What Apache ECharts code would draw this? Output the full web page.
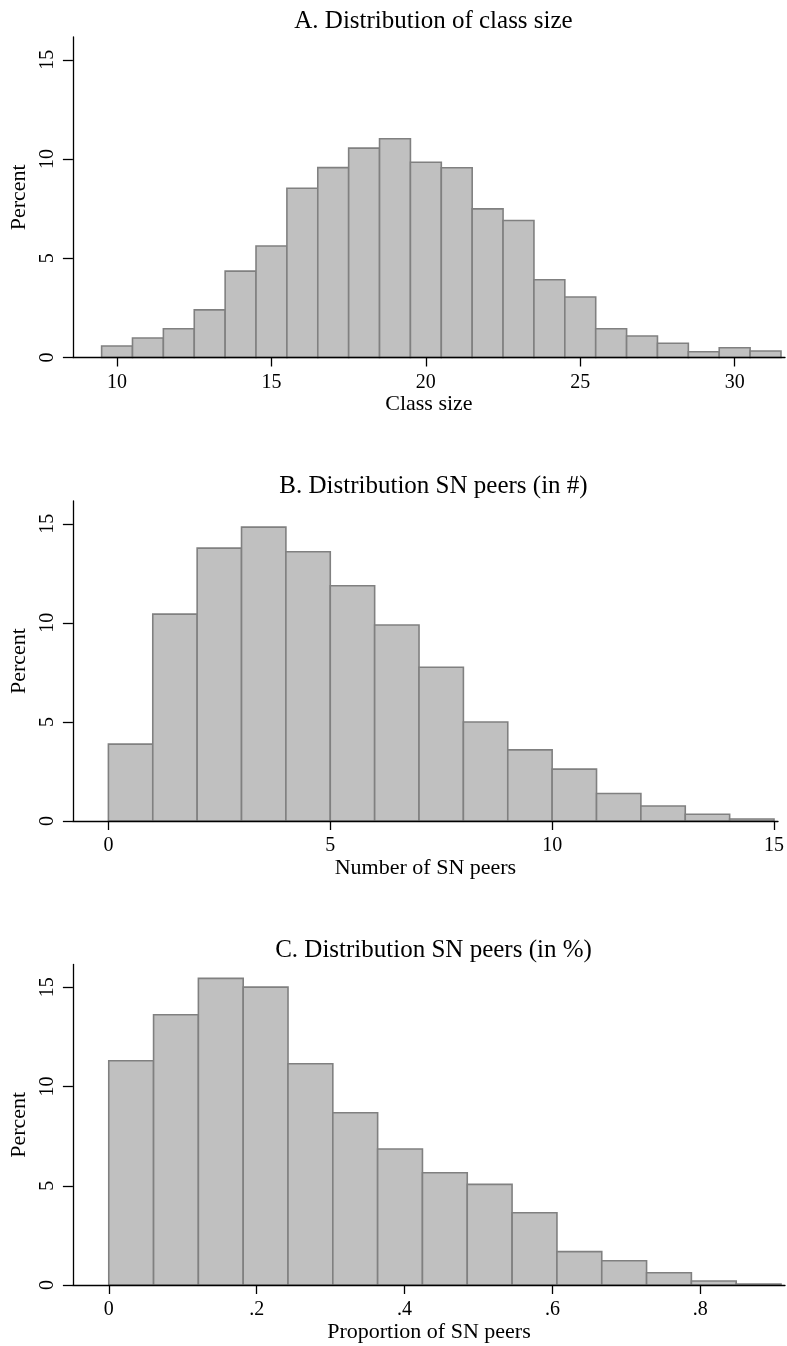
<!DOCTYPE html>
<html>
<head>
<meta charset="utf-8">
<script src="https://cdn.jsdelivr.net/npm/echarts@6/dist/echarts.min.js"></script>
<style>
  html, body { margin: 0; padding: 0; background: #ffffff; }
  #chart { width: 787px; height: 1346px; }
</style>
</head>
<body>
<div id="chart"></div>
<script>
// Panel A: class size, bins of width 1 centred on integers
const classSizeCenters = [10, 11, 12, 13, 14, 15, 16, 17, 18, 19, 20, 21, 22, 23, 24, 25, 26, 27, 28, 29, 30, 31];
const classSizePct     = [0.58, 0.98, 1.45, 2.40, 4.35, 5.62, 8.53, 9.57, 10.55, 11.02, 9.84, 9.56, 7.49, 6.90, 3.92, 3.05, 1.45, 1.08, 0.72, 0.29, 0.49, 0.33];

// Panel B: number of SN peers, bins [k, k+1)
const peerCountStarts = [0, 1, 2, 3, 4, 5, 6, 7, 8, 9, 10, 11, 12, 13, 14];
const peerCountPct    = [3.88, 10.44, 13.77, 14.83, 13.59, 11.87, 9.89, 7.76, 5.00, 3.59, 2.62, 1.39, 0.76, 0.34, 0.10];

// Panel C: proportion of SN peers, 15 equal bins
const peerShareStarts = [0, 0.0606, 0.1212, 0.1818, 0.2424, 0.3030, 0.3636, 0.4242, 0.4848, 0.5455, 0.6061, 0.6667, 0.7273, 0.7879, 0.8485];
const peerShareWidth  = 0.0606;
const peerSharePct    = [11.30, 13.62, 15.45, 15.01, 11.15, 8.68, 6.85, 5.66, 5.07, 3.64, 1.68, 1.22, 0.62, 0.20, 0.05];

// Tick values
const classSizeTicks = [10, 15, 20, 25, 30];
const peerCountTicks = [0, 5, 10, 15];
const peerShareTicks = [0, 0.2, 0.4, 0.6, 0.8];
const percentTicks   = [0, 5, 10, 15];

const FONT = "'Liberation Serif', 'Times New Roman', serif";
const BAR_FILL = '#c0c0c0';
const BAR_EDGE = '#808080';

function histItem(params, api) {
  const lo = api.value(0), hi = api.value(1), v = api.value(2);
  const a = api.coord([lo, v]);
  const b = api.coord([hi, 0]);
  return {
    type: 'rect',
    shape: { x: a[0], y: a[1], width: b[0] - a[0], height: b[1] - a[1] },
    style: { fill: BAR_FILL, stroke: BAR_EDGE, lineWidth: 1.6 }
  };
}

const grids = [
  { left: 70, right: 2, top: 37,  height: 320.5 },
  { left: 70, right: 2, top: 501, height: 320 },
  { left: 70, right: 2, top: 964.5, height: 320.5 }
];

function xAxisFor(idx, min, max, ticks, name, fmt) {
  return {
    type: 'value', gridIndex: idx, min: min, max: max, z: 5,
    name: name, nameLocation: 'middle', nameGap: 35,
    nameTextStyle: { fontFamily: FONT, fontSize: 22, color: '#000' },
    splitLine: { show: false },
    axisLine: { onZero: false, lineStyle: { color: '#000', width: 1.3 } },
    axisTick: { customValues: ticks, length: 9, lineStyle: { color: '#000', width: 1.3 } },
    axisLabel: { customValues: ticks, margin: 15, fontFamily: FONT, fontSize: 20, color: '#000',
                 formatter: fmt || (v => String(v)) }
  };
}

function yAxisFor(idx) {
  return {
    type: 'value', gridIndex: idx, min: 0, max: 16.15, z: 5,
    name: 'Percent', nameLocation: 'middle', nameGap: 39,
    nameTextStyle: { fontFamily: FONT, fontSize: 22, color: '#000' },
    splitLine: { show: false },
    axisLine: { show: true, onZero: false, lineStyle: { color: '#000', width: 1.3 } },
    axisTick: { show: true, customValues: percentTicks, length: 10, lineStyle: { color: '#000', width: 1.3 } },
    axisLabel: { customValues: percentTicks, rotate: 90, margin: 15, fontFamily: FONT, fontSize: 20, color: '#000' }
  };
}

const shareFmt = v => (v === 0 ? '0' : String(v).replace(/^0\./, '.'));

const option = {
  backgroundColor: '#ffffff',
  animation: false,
  title: [
    { text: 'A. Distribution of class size', left: 428.5, top: 4, textAlign: 'center',
      textStyle: { fontFamily: FONT, fontSize: 25, fontWeight: 'normal', color: '#000' } },
    { text: 'B. Distribution SN peers (in #)', left: 428.5, top: 469, textAlign: 'center',
      textStyle: { fontFamily: FONT, fontSize: 25, fontWeight: 'normal', color: '#000' } },
    { text: 'C. Distribution SN peers (in %)', left: 428.5, top: 933, textAlign: 'center',
      textStyle: { fontFamily: FONT, fontSize: 25, fontWeight: 'normal', color: '#000' } }
  ],
  grid: grids,
  xAxis: [
    xAxisFor(0, 8.57, 31.63, classSizeTicks, 'Class size'),
    xAxisFor(1, -0.8, 15.09, peerCountTicks, 'Number of SN peers'),
    xAxisFor(2, -0.0485, 0.9145, peerShareTicks, 'Proportion of SN peers', shareFmt)
  ],
  yAxis: [yAxisFor(0), yAxisFor(1), yAxisFor(2)],
  series: [
    { type: 'custom', xAxisIndex: 0, yAxisIndex: 0, renderItem: histItem, z: 2,
      data: classSizeCenters.map((c, i) => [c - 0.5, c + 0.5, classSizePct[i]]) },
    { type: 'custom', xAxisIndex: 1, yAxisIndex: 1, renderItem: histItem, z: 2,
      data: peerCountStarts.map((s, i) => [s, s + 1, peerCountPct[i]]) },
    { type: 'custom', xAxisIndex: 2, yAxisIndex: 2, renderItem: histItem, z: 2,
      data: peerShareStarts.map((s, i) => [s, s + peerShareWidth, peerSharePct[i]]) }
  ]
};

const chart = echarts.init(document.getElementById('chart'), null, { renderer: 'canvas' });
chart.setOption(option);
</script>
</body>
</html>
